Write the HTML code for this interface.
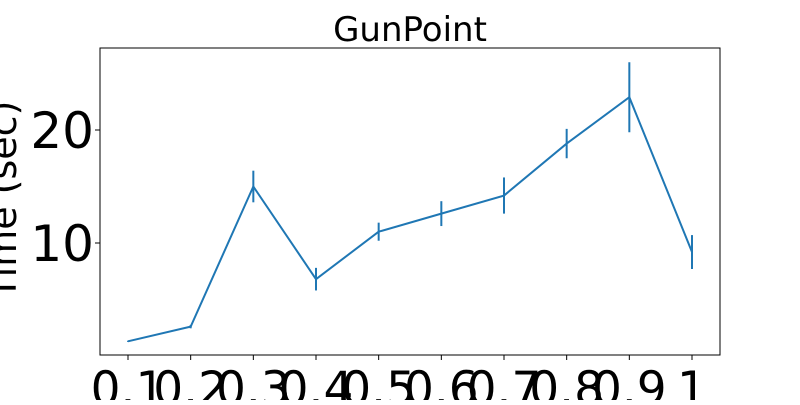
<!DOCTYPE html>
<html><head><meta charset="utf-8"><style>
body{margin:0;background:#fff;width:800px;height:400px;overflow:hidden}
svg text{font-family:"DejaVu Sans","Liberation Sans",sans-serif;fill:#000}
</style></head><body>
<svg id="chart" width="800" height="400"></svg>
<script>
const categories=["0.1","0.2","0.3","0.4","0.5","0.6","0.7","0.8","0.9","1"];
const meanValues=[1.3,2.6,15.0,6.8,11.0,12.6,14.2,18.8,22.9,9.2];
const errValues=[0.05,0.15,1.4,1.0,0.8,1.1,1.6,1.3,3.1,1.5];
const yTicks=[10,20];
const NS="http://www.w3.org/2000/svg";
const svg=document.getElementById('chart');
const L=100,R=720,T=48,B=355;
const x0=128,dx=(692-128)/9;
function xs(i){return x0+i*dx;}
function ys(v){return 356-v*11.3;}
function mk(t,a,p){const e=document.createElementNS(NS,t);for(const k in a)e.setAttribute(k,a[k]);(p||svg).appendChild(e);return e;}
const title=mk('text',{x:410,y:41,'text-anchor':'middle','font-size':34});
title.textContent="GunPoint";


const frame=mk('rect',{x:L,y:T,width:R-L,height:B-T,fill:'none',stroke:'#000','stroke-width':1});


categories.forEach((c,i)=>{
  const tk=mk('line',{x1:xs(i),x2:xs(i),y1:B,y2:B+5,stroke:'#000'});
  
  
  const t=mk('text',{x:xs(i),y:405,'text-anchor':'middle','font-size':47});
  t.textContent=c;
  
  
});
yTicks.forEach(v=>{
  const tk=mk('line',{x1:L-5,x2:L,y1:ys(v),y2:ys(v),stroke:'#000'});
  
  
  const t=mk('text',{x:L-6,y:ys(v)+18,'text-anchor':'end','font-size':50});
  t.textContent=v;
  
  
});
const yl=mk('text',{x:0,y:0,'text-anchor':'middle','font-size':38,transform:'translate(16,200) rotate(-90)'});
yl.textContent="Time (sec)";


const line=mk('polyline',{points:meanValues.map((v,i)=>xs(i)+','+ys(v)).join(' '),fill:'none',stroke:'#1f77b4','stroke-width':2});


meanValues.forEach((v,i)=>{
  const e=mk('line',{x1:xs(i),x2:xs(i),y1:ys(v-errValues[i]),y2:ys(v+errValues[i]),stroke:'#1f77b4','stroke-width':2});
  
  
});
</script>
</body></html>
